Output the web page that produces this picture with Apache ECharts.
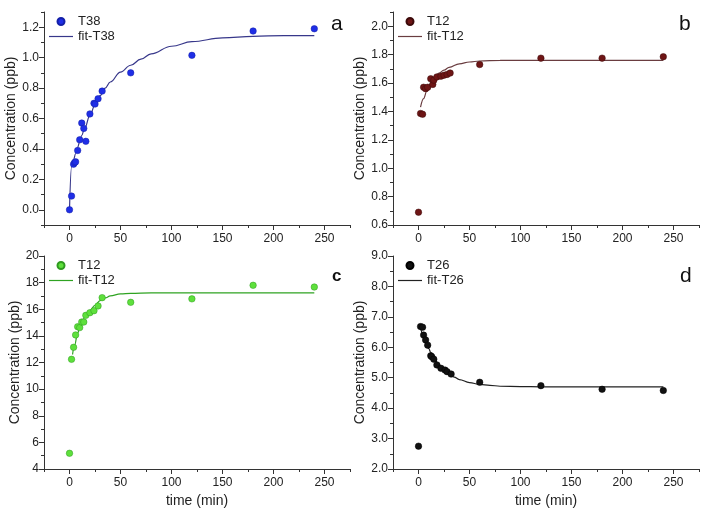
<!DOCTYPE html>
<html>
<head>
<meta charset="utf-8">
<script src="https://cdn.jsdelivr.net/npm/echarts@6/dist/echarts.min.js"></script>
<style>html,body{margin:0;padding:0;background:#fff}#c{width:709px;height:513px}</style>
</head>
<body>
<div id="c"></div>
<script>
// ---- Panel a (T38) ----
var aTime = [0, 2, 4, 5, 6, 8, 10, 12, 14, 16, 20, 24, 25, 28, 32, 60, 120, 180, 240];
var aConc = [0.00, 0.09, 0.30, 0.31, 0.315, 0.39, 0.46, 0.57, 0.535, 0.45, 0.63, 0.70, 0.695, 0.73, 0.78, 0.90, 1.015, 1.175, 1.19];
var aFitTime = [0, 2, 4, 6, 8, 10, 12, 15, 20, 25, 30, 35, 40, 50, 60, 70, 80, 100, 120, 150, 180, 210, 240];
var aFitConc = [0.00, 0.28, 0.33, 0.37, 0.41, 0.45, 0.49, 0.54, 0.62, 0.69, 0.75, 0.80, 0.84, 0.905, 0.95, 0.99, 1.025, 1.075, 1.105, 1.13, 1.14, 1.145, 1.145];
// ---- Panel b (T12) ----
var bTime = [0, 2, 4, 5, 7, 9, 12, 14, 15, 18, 22, 25, 28, 31, 60, 120, 180, 240];
var bConc = [0.69, 1.385, 1.38, 1.57, 1.56, 1.57, 1.63, 1.59, 1.62, 1.643, 1.648, 1.655, 1.66, 1.67, 1.73, 1.775, 1.775, 1.785];
var bFitTime = [2, 5, 8, 10, 12, 15, 20, 25, 30, 40, 50, 60, 80, 100, 150, 200, 240];
var bFitConc = [1.43, 1.49, 1.54, 1.57, 1.60, 1.63, 1.67, 1.69, 1.71, 1.735, 1.748, 1.755, 1.759, 1.76, 1.76, 1.76, 1.76];
// ---- Panel c (T12) ----
var cTime = [0, 2, 4, 6, 8, 10, 12, 14, 16, 20, 24, 28, 32, 60, 120, 180, 240];
var cConc = [5.18, 12.24, 13.14, 14.07, 14.69, 14.62, 15.04, 15.04, 15.54, 15.74, 15.89, 16.25, 16.87, 16.52, 16.78, 17.8, 17.67];
var cFitTime = [3, 5, 8, 10, 12, 15, 20, 25, 30, 35, 40, 50, 60, 80, 100, 150, 200, 240];
var cFitConc = [12.6, 13.3, 14.2, 14.6, 15.0, 15.4, 15.9, 16.3, 16.65, 16.85, 17.0, 17.15, 17.2, 17.23, 17.23, 17.23, 17.23, 17.23];
// ---- Panel d (T26) ----
var dTime = [0, 2, 4, 5, 7, 9, 12, 13, 15, 18, 22, 26, 28, 32, 60, 120, 180, 240];
var dConc = [2.75, 6.68, 6.66, 6.40, 6.24, 6.07, 5.72, 5.69, 5.61, 5.42, 5.31, 5.25, 5.20, 5.12, 4.85, 4.74, 4.62, 4.58];
var dFitTime = [2, 4, 6, 8, 10, 12, 15, 20, 25, 30, 35, 40, 50, 60, 70, 80, 100, 120, 160, 200, 240];
var dFitConc = [6.66, 6.45, 6.27, 6.11, 5.96, 5.83, 5.65, 5.43, 5.25, 5.12, 5.02, 4.94, 4.84, 4.78, 4.75, 4.72, 4.71, 4.70, 4.70, 4.70, 4.70];
// ---- ticks ----
var xMajor = [0, 50, 100, 150, 200, 250];
var xMinor = [-25, 25, 75, 125, 175, 225, 275];
var aYMajor = [0, 0.2, 0.4, 0.6, 0.8, 1.0, 1.2];
var aYMinor = [-0.1, 0.1, 0.3, 0.5, 0.7, 0.9, 1.1, 1.3];
var bYMajor = [0.6, 0.8, 1.0, 1.2, 1.4, 1.6, 1.8, 2.0];
var bYMinor = [0.7, 0.9, 1.1, 1.3, 1.5, 1.7, 1.9, 2.1];
var cYMajor = [4, 6, 8, 10, 12, 14, 16, 18, 20];
var cYMinor = [5, 7, 9, 11, 13, 15, 17, 19];
var dYMajor = [2, 3, 4, 5, 6, 7, 8, 9];
var dYMinor = [2.5, 3.5, 4.5, 5.5, 6.5, 7.5, 8.5];
// legend texts
var seriesNames = ['T38', 'T12', 'T12', 'T26'];
var fitNames = ['fit-T38', 'fit-T12', 'fit-T12', 'fit-T26'];

function pairs(xs, ys) { return xs.map(function (x, i) { return [x, ys[i]]; }); }

var FONT = 'Liberation Sans';
var panels = [
  {grid:{left:44, top:12, width:306, height:213}, ymin:-0.1, ymax:1.3, ymaj:aYMajor, ymin2:aYMinor, dec:1,
   pts:pairs(aTime,aConc), fit:pairs(aFitTime,aFitConc),
   sColor:'#1f2ee6', sBorder:'#1420a8', lColor:'#37378a', xname:'', letter:'a', lx:331, ly:14, lsize:21, lbold:'normal'},
  {grid:{left:393, top:12, width:306, height:213}, ymin:0.6, ymax:2.1, ymaj:bYMajor, ymin2:bYMinor, dec:1,
   pts:pairs(bTime,bConc), fit:pairs(bFitTime,bFitConc),
   sColor:'#6e1515', sBorder:'#3c0a0a', lColor:'#6a3d40', xname:'', letter:'b', lx:679, ly:14, lsize:21, lbold:'normal'},
  {grid:{left:44, top:256, width:306, height:213}, ymin:4, ymax:20, ymaj:cYMajor, ymin2:cYMinor, dec:0,
   pts:pairs(cTime,cConc), fit:pairs(cFitTime,cFitConc),
   sColor:'#5ee03c', sBorder:'#2f9a20', lColor:'#2fa322', xname:'time (min)', letter:'c', lx:332, ly:268, lsize:17, lbold:'bold'},
  {grid:{left:393, top:256, width:306, height:213}, ymin:2, ymax:9, ymaj:dYMajor, ymin2:dYMinor, dec:1,
   pts:pairs(dTime,dConc), fit:pairs(dFitTime,dFitConc),
   sColor:'#111111', sBorder:'#000000', lColor:'#222222', xname:'time (min)', letter:'d', lx:680, ly:266, lsize:21, lbold:'normal'}
];

var option = {animation:false, grid:[], xAxis:[], yAxis:[], series:[], legend:[], title:[], textStyle:{fontFamily:FONT}};
var labelStyle = {color:'#222', fontSize:12, fontFamily:FONT};
var SEP = '\u0000';
panels.forEach(function (p, i) {
  var sName = seriesNames[i] + SEP + i, fName = fitNames[i] + SEP + i;
  option.grid.push(p.grid);
  var xi = option.xAxis.length, yi = option.yAxis.length;
  option.xAxis.push({
    type:'value', gridIndex:i, min:-25, max:275, position:'bottom',
    axisLine:{show:true, onZero:false, lineStyle:{color:'#333', width:1}},
    axisTick:{show:true, length:5, customValues:xMajor, lineStyle:{color:'#333'}},
    axisLabel:Object.assign({customValues:xMajor, margin:8}, labelStyle),
    splitLine:{show:false},
    name:p.xname, nameLocation:'middle', nameGap:25,
    nameTextStyle:{color:'#222', fontSize:14, fontFamily:FONT}
  });
  option.xAxis.push({
    type:'value', gridIndex:i, min:-25, max:275, position:'bottom',
    axisLine:{show:false, onZero:false}, axisTick:{show:true, length:3, customValues:xMinor, lineStyle:{color:'#333'}},
    axisLabel:{show:false}, splitLine:{show:false}
  });
  option.yAxis.push({
    type:'value', gridIndex:i, min:p.ymin, max:p.ymax, position:'left',
    axisLine:{show:true, onZero:false, lineStyle:{color:'#333', width:1}},
    axisTick:{show:true, length:5, customValues:p.ymaj, lineStyle:{color:'#333'}},
    axisLabel:Object.assign({customValues:p.ymaj, margin:5, formatter:(function(d){return function(v){return v.toFixed(d);};})(p.dec)}, labelStyle),
    splitLine:{show:false},
    name:'Concentration (ppb)', nameLocation:'middle', nameGap:p.dec ? 24 : 20, nameRotate:90,
    nameTextStyle:{color:'#222', fontSize:14, fontFamily:FONT}
  });
  option.yAxis.push({
    type:'value', gridIndex:i, min:p.ymin, max:p.ymax, position:'left',
    axisLine:{show:false, onZero:false}, axisTick:{show:true, length:3, customValues:p.ymin2, lineStyle:{color:'#333'}},
    axisLabel:{show:false}, splitLine:{show:false}
  });
  option.series.push({
    type:'line', name:fName, xAxisIndex:xi, yAxisIndex:yi, data:p.fit,
    smooth:0.4, smoothMonotone:'x', symbol:'none', lineStyle:{color:p.lColor, width:1.2}, itemStyle:{color:p.lColor}, z:2
  });
  option.series.push({
    type:'scatter', name:sName, xAxisIndex:xi, yAxisIndex:yi, data:p.pts,
    symbolSize:6.5, itemStyle:{color:p.sColor, borderColor:p.sBorder, borderWidth:0.5, opacity:1}, z:3
  });
  option.legend.push({
    left:p.grid.left + 5, top:p.grid.top + 3, padding:0, orient:'vertical', itemWidth:24, itemHeight:7, itemGap:2,
    textStyle:{color:'#222', fontSize:13, lineHeight:13, fontFamily:FONT},
    formatter:function (n) { return n.split(SEP)[0]; },
    data:[{name:sName, icon:'circle'}, {name:fName, icon:'path://M0,0L100,0L100,5L0,5Z'}]
  });
  option.title.push({text:p.letter, left:p.lx, top:p.ly, padding:0, textStyle:{fontSize:p.lsize, fontWeight:p.lbold, color:'#111', fontFamily:FONT}});
});
var chart = echarts.init(document.getElementById('c'), null, {renderer:'canvas'});
chart.setOption(option);
</script>
</body>
</html>
